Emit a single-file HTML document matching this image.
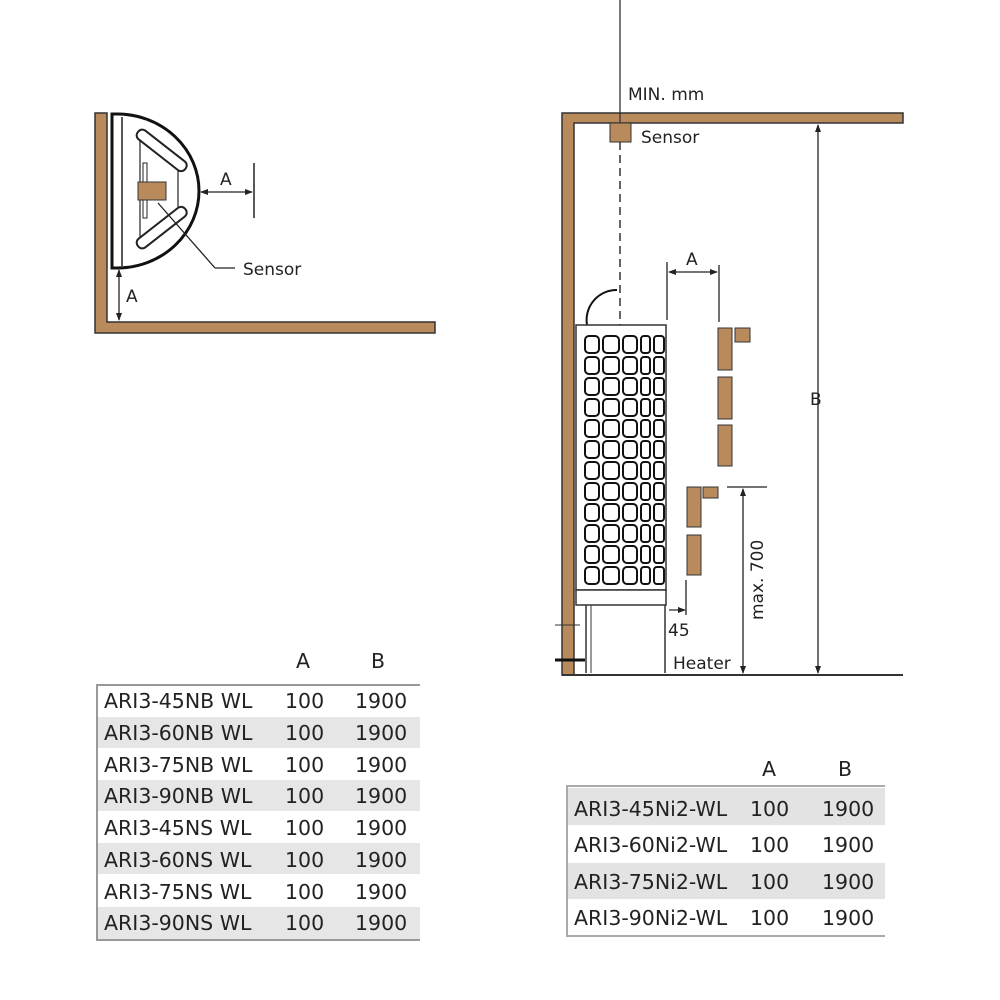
<!DOCTYPE html>
<html><head><meta charset="utf-8"><style>
html,body{margin:0;padding:0;background:#fff;width:1000px;height:1000px;overflow:hidden}
svg{position:absolute;left:0;top:0}
.t{font-family:"DejaVu Sans","Liberation Sans",sans-serif;font-size:20.5px;fill:#222}
.s{font-family:"DejaVu Sans","Liberation Sans",sans-serif;font-size:17px;fill:#222}
</style></head><body>
<svg width="1000" height="1000" viewBox="0 0 1000 1000" xmlns="http://www.w3.org/2000/svg">
<defs>
<marker id="ar" markerWidth="8" markerHeight="8" refX="7" refY="4" orient="auto-start-reverse" markerUnits="userSpaceOnUse"><path d="M0,1 L8,4 L0,7z" fill="#222"/></marker>
</defs>
<!-- LEFT DIAGRAM -->
<path d="M95,113 H107 V322 H435 V333 H95 Z" fill="#b98a5c" stroke="#333" stroke-width="1.5"/>
<path d="M112,114 L117,114 A82,77 0 0 1 117,268 L112,268 Z" fill="#fff" stroke="#111" stroke-width="3"/>
<line x1="122" y1="117" x2="122" y2="266" stroke="#222" stroke-width="1.5"/>
<path d="M140,140 L178,170 L178,210 L140,240 Z" fill="none" stroke="#222" stroke-width="1.2"/>
<rect x="132" y="145" width="60" height="11" rx="5" transform="rotate(38 162 150)" fill="#fff" stroke="#222" stroke-width="2"/>
<rect x="132" y="222" width="60" height="11" rx="5" transform="rotate(-38 162 228)" fill="#fff" stroke="#222" stroke-width="2"/>
<rect x="143" y="163" width="4" height="55" fill="#fff" stroke="#222"/>
<rect x="138" y="182" width="28" height="18" fill="#b98a5c" stroke="#333"/>
<line x1="158" y1="203" x2="215" y2="268" stroke="#222" stroke-width="1.3"/>
<line x1="215" y1="268" x2="235" y2="268" stroke="#222" stroke-width="1.3"/>
<text x="243" y="275" class="s">Sensor</text>
<line x1="201" y1="192" x2="252" y2="192" stroke="#222" stroke-width="1.3" marker-end="url(#ar)" marker-start="url(#ar)"/>
<line x1="254" y1="163" x2="254" y2="218" stroke="#222" stroke-width="1.5"/>
<text x="220" y="185" class="s">A</text>
<line x1="119" y1="270" x2="119" y2="320" stroke="#222" stroke-width="1.3" marker-end="url(#ar)" marker-start="url(#ar)"/>
<text x="126" y="302" class="s">A</text>
<!-- RIGHT DIAGRAM -->
<path d="M562,113 H903 V123 H574 V675 H562 Z" fill="#b98a5c" stroke="#333" stroke-width="1.5"/>
<line x1="562" y1="675" x2="903" y2="675" stroke="#333" stroke-width="2"/>
<line x1="620" y1="0" x2="620" y2="123" stroke="#333" stroke-width="1.3"/>
<line x1="620" y1="142" x2="620" y2="325" stroke="#333" stroke-width="1.5" stroke-dasharray="8,5"/>
<rect x="610" y="123" width="21" height="19" fill="#b98a5c" stroke="#333"/>
<text x="628" y="100" class="s">MIN. mm</text>
<text x="641" y="143" class="s">Sensor</text>
<line x1="818" y1="125" x2="818" y2="673" stroke="#222" stroke-width="1.3" marker-end="url(#ar)" marker-start="url(#ar)"/>
<text x="810" y="405" class="s">B</text>
<!-- heater -->
<path d="M587,325 A30,30 0 0 1 617,290" fill="none" stroke="#111" stroke-width="2"/>
<rect x="576" y="325" width="90" height="265" fill="#fff" stroke="#333" stroke-width="1.5"/>
<g fill="none" stroke="#111" stroke-width="2">
<g id="row">
<rect x="585" y="336" width="14" height="17" rx="4"/>
<rect x="603" y="336" width="16" height="17" rx="4"/>
<rect x="623" y="336" width="14" height="17" rx="4"/>
<rect x="641" y="336" width="9" height="17" rx="3"/>
<rect x="654" y="336" width="10" height="17" rx="3"/>
</g>
<use href="#row" y="21"/><use href="#row" y="42"/><use href="#row" y="63"/>
<use href="#row" y="84"/><use href="#row" y="105"/><use href="#row" y="126"/>
<use href="#row" y="147"/><use href="#row" y="168"/><use href="#row" y="189"/>
<use href="#row" y="210"/><use href="#row" y="231"/>
</g>
<rect x="576" y="590" width="90" height="15" fill="#fff" stroke="#333" stroke-width="1.5"/>
<line x1="586" y1="605" x2="586" y2="673" stroke="#333" stroke-width="1.5"/>
<line x1="665" y1="605" x2="665" y2="673" stroke="#333" stroke-width="1.5"/>
<line x1="591" y1="605" x2="591" y2="673" stroke="#333"/>
<line x1="555" y1="625" x2="580" y2="625" stroke="#333"/><line x1="555" y1="660" x2="585" y2="660" stroke="#111" stroke-width="3"/>
<!-- wood blocks -->
<g fill="#b98a5c" stroke="#333">
<rect x="718" y="328" width="14" height="42"/><rect x="735" y="328" width="15" height="14"/>
<rect x="718" y="377" width="14" height="42"/>
<rect x="718" y="425" width="14" height="41"/>
<rect x="687" y="487" width="14" height="40"/><rect x="703" y="487" width="15" height="11"/>
<rect x="687" y="535" width="14" height="40"/>
</g>
<line x1="667" y1="262" x2="667" y2="320" stroke="#222" stroke-width="1.3"/>
<line x1="719" y1="265" x2="719" y2="322" stroke="#222" stroke-width="1.3"/>
<line x1="669" y1="272" x2="717" y2="272" stroke="#222" stroke-width="1.3" marker-end="url(#ar)" marker-start="url(#ar)"/>
<text x="686" y="265" class="s">A</text>
<line x1="727" y1="487" x2="767" y2="487" stroke="#222" stroke-width="1.3"/>
<line x1="743" y1="489" x2="743" y2="673" stroke="#222" stroke-width="1.3" marker-end="url(#ar)" marker-start="url(#ar)"/>
<text transform="translate(763,620) rotate(-90)" class="s">max. 700</text>
<line x1="686" y1="580" x2="686" y2="615" stroke="#222" stroke-width="1.3"/>
<line x1="669" y1="610" x2="685" y2="610" stroke="#222" stroke-width="1.2" marker-end="url(#ar)"/>
<text x="668" y="636" class="s">45</text>
<text x="673" y="669" class="s">Heater</text>
<!-- LEFT TABLE -->
<text x="296" y="668" class="t">A</text><text x="371" y="668" class="t">B</text>
<g fill="#e6e6e6">
<rect x="98" y="717" width="322" height="31"/><rect x="98" y="780" width="322" height="31"/>
<rect x="98" y="843" width="322" height="31"/><rect x="98" y="907" width="322" height="32"/>
</g>
<path d="M420,685 H97 V940 H420" fill="none" stroke="#999" stroke-width="2"/>
<text x="104" y="708" class="t">ARI3-45NB WL</text><text x="285" y="708" class="t">100</text><text x="355" y="708" class="t">1900</text>
<text x="104" y="740" class="t">ARI3-60NB WL</text><text x="285" y="740" class="t">100</text><text x="355" y="740" class="t">1900</text>
<text x="104" y="772" class="t">ARI3-75NB WL</text><text x="285" y="772" class="t">100</text><text x="355" y="772" class="t">1900</text>
<text x="104" y="803" class="t">ARI3-90NB WL</text><text x="285" y="803" class="t">100</text><text x="355" y="803" class="t">1900</text>
<text x="104" y="835" class="t">ARI3-45NS WL</text><text x="285" y="835" class="t">100</text><text x="355" y="835" class="t">1900</text>
<text x="104" y="867" class="t">ARI3-60NS WL</text><text x="285" y="867" class="t">100</text><text x="355" y="867" class="t">1900</text>
<text x="104" y="899" class="t">ARI3-75NS WL</text><text x="285" y="899" class="t">100</text><text x="355" y="899" class="t">1900</text>
<text x="104" y="930" class="t">ARI3-90NS WL</text><text x="285" y="930" class="t">100</text><text x="355" y="930" class="t">1900</text>
<!-- RIGHT TABLE -->
<text x="762" y="776" class="t">A</text><text x="838" y="776" class="t">B</text>
<g fill="#e3e3e3">
<rect x="568" y="788" width="317" height="37"/><rect x="568" y="863" width="317" height="36"/>
</g>
<path d="M885,786 H567 V936 H885" fill="none" stroke="#aaa" stroke-width="2"/>
<text x="574" y="816" class="t">ARI3-45Ni2-WL</text><text x="750" y="816" class="t">100</text><text x="822" y="816" class="t">1900</text>
<text x="574" y="852" class="t">ARI3-60Ni2-WL</text><text x="750" y="852" class="t">100</text><text x="822" y="852" class="t">1900</text>
<text x="574" y="889" class="t">ARI3-75Ni2-WL</text><text x="750" y="889" class="t">100</text><text x="822" y="889" class="t">1900</text>
<text x="574" y="925" class="t">ARI3-90Ni2-WL</text><text x="750" y="925" class="t">100</text><text x="822" y="925" class="t">1900</text>
</svg>
</body></html>
